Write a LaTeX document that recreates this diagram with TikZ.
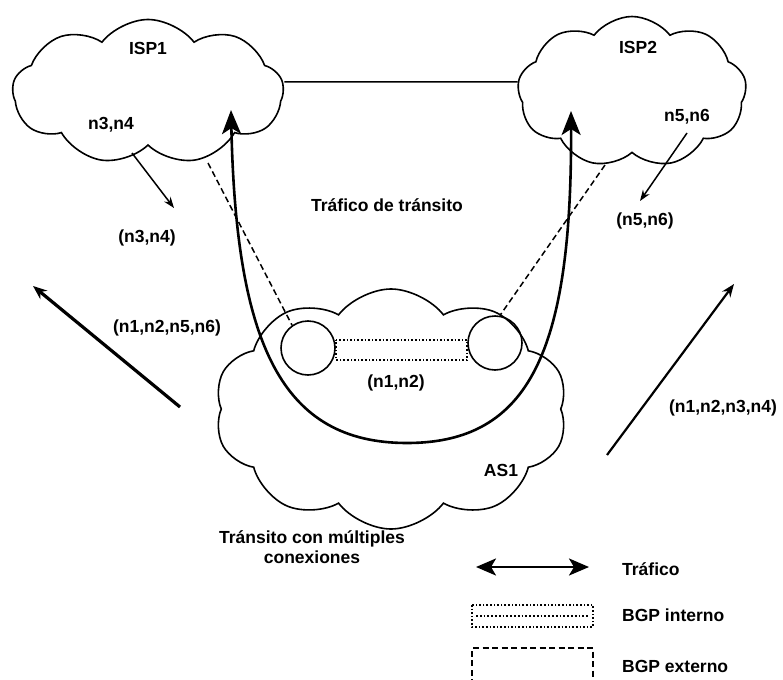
\documentclass[tikz,border=0pt]{standalone}
\usepackage{fontspec}
\setmainfont{Liberation Sans}
\usetikzlibrary{shapes.symbols,arrows.meta}
\begin{document}
\begin{tikzpicture}[x=1pt,y=-1pt,
  cloudbox/.style={cloud, draw, line width=1.6pt, cloud puffs=9, cloud puff arc=105, cloud ignores aspect, inner sep=0pt},
  router/.style={circle, draw, line width=1.6pt, minimum size=54pt, inner sep=0pt},
  lbl/.style={font=\fontsize{17.5}{20}\selectfont\bfseries, inner sep=0pt},
  traffic/.style={line width=2.6pt, {Stealth[length=24pt,width=19pt,inset=6pt]}-{Stealth[length=24pt,width=19pt,inset=6pt]}},
  legarrow/.style={line width=2.6pt, {Stealth[length=20pt,width=17pt,inset=5pt]}-{Stealth[length=20pt,width=17pt,inset=5pt]}},
  smallarrow/.style={line width=1.5pt, -{Stealth[length=11pt,width=8pt]}},
  bigleft/.style={line width=3.2pt, -{Stealth[length=14pt,width=11pt]}},
  bigright/.style={line width=2.2pt, -{Stealth[length=13pt,width=10pt]}},
  ibgp/.style={dotted, line width=1.6pt},
  ebgp/.style={line width=1.5pt, dash pattern=on 6pt off 3.5pt}]
\useasboundingbox[fill=white] (0,0) rectangle (783,679);

% clouds
\node[cloudbox, minimum width=271pt, minimum height=145pt] (isp1) at (148,92) {};
\node[cloudbox, minimum width=229pt, minimum height=151pt] (isp2) at (632,92) {};
\node[cloudbox, cloud puffs=10, minimum width=353pt, minimum height=240pt] (as1) at (391,409) {};

% ISP link
\draw[line width=1.5pt] ([yshift=10pt]isp1.east) -- ([yshift=10pt]isp2.west);

% routers
\node[router] (r1) at (308,348) {};
\node[router] (r2) at (495,343) {};

% internal BGP
\draw[ibgp] ([yshift=8pt]r1.east) -- ([yshift=3pt]r2.west) -- ([yshift=-17pt]r2.west) -- ([yshift=-12pt]r1.east) -- cycle;

% external BGP
\coordinate (d1) at (208,163);
\coordinate (d2) at (605,165);
\draw[ebgp] (d1) -- (r1.125);
\draw[ebgp] (d2) -- (r2.80);

% transit traffic
\coordinate (tl) at (231,110);
\coordinate (tr) at (571,111);
\draw[traffic] (tl) .. controls (236,345) and (282,443) .. (407,443) .. controls (530,443) and (572,350) .. (tr);

% labels
\node[lbl] (tisp1) at (148,48) {ISP1};
\node[lbl] (tisp2) at (638,47) {ISP2};
\node[lbl] (tn34) at (111,125) {n3,n4};
\node[lbl] (tn56) at (687,117) {n5,n6};
\node[lbl] (tpn34) at (147,238) {(n3,n4)};
\node[lbl] (tpn56) at (645,221) {(n5,n6)};
\node[lbl] (ttr) at (387,205) {Tráfico de tránsito};
\node[lbl] (tn12) at (396,383) {(n1,n2)};
\node[lbl] (tas1) at (501,470) {AS1};
\node[lbl] (tn1256) at (167,328) {(n1,n2,n5,n6)};
\node[lbl] (tn1234) at (723,408) {(n1,n2,n3,n4)};
\node[lbl, align=center] (tmult) at (312,547) {Tránsito con múltiples\\conexiones};

% small arrows
\coordinate (a1s) at (132,153); \coordinate (a1e) at (174,208);
\draw[smallarrow] (a1s) -- (a1e);
\coordinate (a2s) at (687,133); \coordinate (a2e) at (640,201);
\draw[smallarrow] (a2s) -- (a2e);

% big diagonal arrows
\coordinate (b1s) at (180,407); \coordinate (b1e) at (33,286);
\draw[bigleft] (b1s) -- (b1e);
\coordinate (b2s) at (607,455); \coordinate (b2e) at (734,284);
\draw[bigright] (b2s) -- (b2e);

% legend
\coordinate (la) at (476,567); \coordinate (lb) at (589,567);
\draw[legarrow] (la) -- (lb);
\node[lbl, anchor=west] (lt1) at (622,569) {Tráfico};
\draw[ibgp] (472,605) rectangle (593,627);
\draw[dotted, line width=1.8pt] (476,616) -- (589,616);
\node[lbl, anchor=west] (lt2) at (622,615) {BGP interno};
\draw[ebgp] (472,685) -- (472,648) -- (593,648) -- (593,685);
\node[lbl, anchor=west] (lt3) at (622,666) {BGP externo};
\end{tikzpicture}
\end{document}
